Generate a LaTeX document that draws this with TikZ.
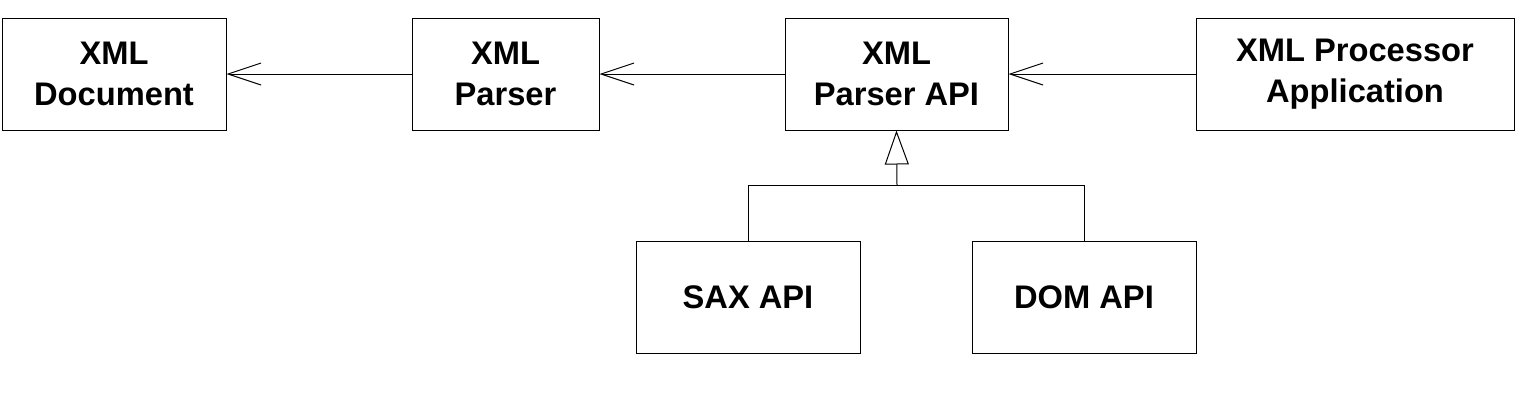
\documentclass[tikz,border=0pt]{standalone}
\usepackage{fontspec}
\setmainfont{Liberation Sans}
\usetikzlibrary{arrows.meta}
\begin{document}
\begin{tikzpicture}[x=0.75pt,y=-0.75pt,line width=0.75pt,
  box/.style={draw,rectangle,inner sep=0pt,minimum width=#1*0.75pt,minimum height=84pt,
    align=center,font=\fontsize{24.5}{30.5}\selectfont\bfseries},
  uses/.style={-{Straight Barb[length=24.75pt,width=16.5pt,line width=0.75pt]}},
  gen/.style={-{Triangle[open,length=25.5pt,width=18pt,fill=white]}}]
\useasboundingbox (0,0) rectangle (1522,411);
\node[box=224] (doc) at (114,74) {XML\\Document};
\node[box=187] (parser) at (505.5,74) {XML\\Parser};
\node[box=223] (api) at (896.5,74) {XML\\Parser API};
\node[box=318] (proc) at (1355,74) {XML Processor\\Application};
\node[box=224] (sax) at (748,297) {SAX API};
\node[box=224] (dom) at (1084,297) {DOM API};
\coordinate (j) at (897,185);
\draw[uses] (parser.west) -- (doc.east);
\draw[uses] (api.west) -- (parser.east);
\draw[uses] (proc.west) -- (api.east);
\draw (sax.north) -- (sax.north |- j) -- (dom.north |- j) -- (dom.north);
\draw[gen] (j) -- (api.south);
\end{tikzpicture}
\end{document}
